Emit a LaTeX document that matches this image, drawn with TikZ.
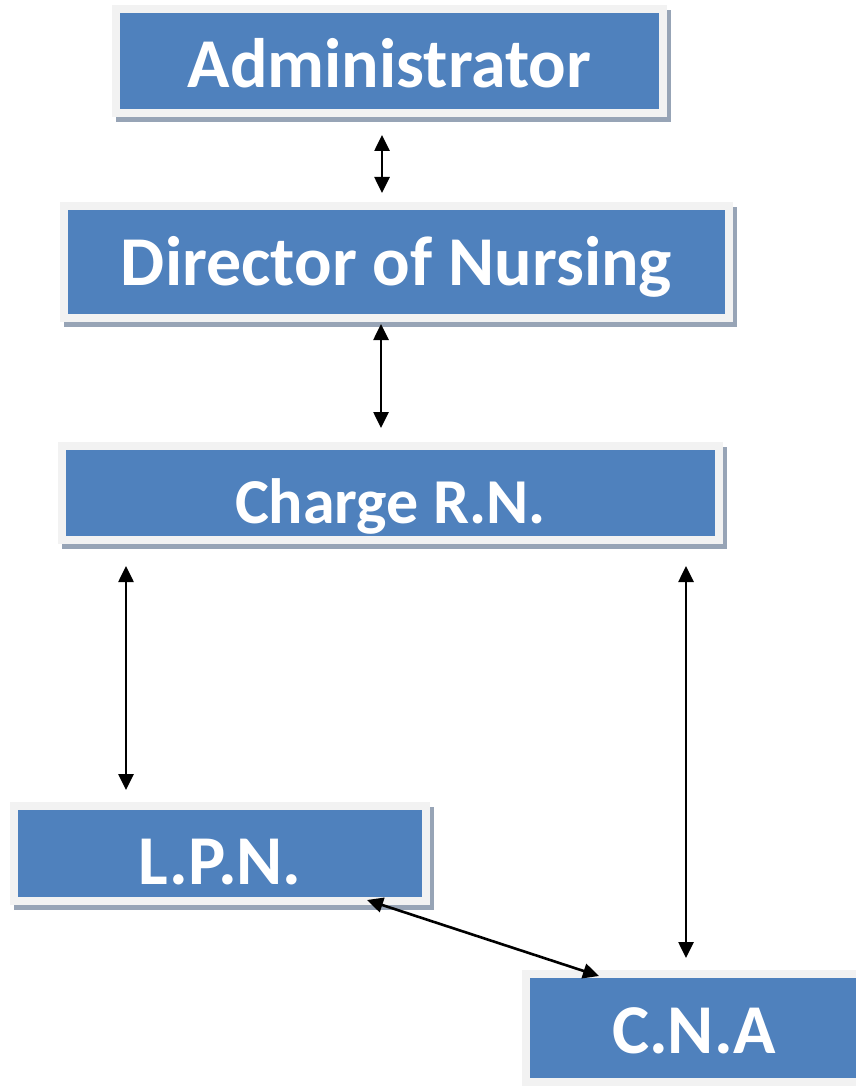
\documentclass[tikz,border=0pt]{standalone}
\usepackage{fontspec}
\setmainfont{Carlito}
\usepackage{xcolor}
\usetikzlibrary{arrows.meta, shadows}

\definecolor{boxblue}{HTML}{4F81BD}
\definecolor{boxrim}{HTML}{F2F2F2}
\definecolor{boxshade}{HTML}{97A4B6}

\tikzset{
  box/.style={rectangle, fill=boxblue, draw=boxrim, line width=8pt,
    text=white, font=\fontsize{70}{80}\selectfont\bfseries,
    text height=54pt, text depth=0pt, inner sep=0pt, outer sep=0pt,
    drop shadow={shadow xshift=4pt, shadow yshift=-5pt, opacity=1,
      fill=boxshade, draw=boxshade, line width=8pt}},
  link/.style={line width=2.6pt, {Triangle[length=16pt,width=15pt]}-{Triangle[length=16pt,width=15pt]}}
}

\begin{document}
\begin{tikzpicture}[x=1pt, y=-1pt]
    \useasboundingbox (0,0) rectangle (855,1086);

    % Draw boxes
    \node[box, minimum width=547pt, minimum height=104pt] (admin) at (389.5,61) {Administrator};
    \node[box, minimum width=665pt, minimum height=112pt, text height=46pt] (dir) at (396.5,262) {Director of Nursing};
    \node[box, minimum width=657pt, minimum height=94pt, text height=60pt,
      font=\fontsize{64}{76}\selectfont\bfseries] (charge) at (390.5,493) {Charge R.N.};
    \node[box, minimum width=412pt, minimum height=95pt, text height=61pt] (lpn) at (220,853.5) {L.P.N.};
    \node[box, minimum width=336pt, minimum height=108pt, text height=50pt] (cna) at (694,1028) {C.N.A};

    % Draw links
    \draw[link] ([xshift=-7.5pt, yshift=-22pt]admin.south) -- ([xshift=-14.5pt, yshift=13pt]dir.north);
    \draw[link] ([xshift=-15.5pt, yshift=-6pt]dir.south) -- ([xshift=-9.5pt, yshift=18pt]charge.north);
    \draw[link] ([xshift=64pt, yshift=-26pt]charge.south west) -- ([xshift=112pt, yshift=16pt]lpn.north west);
    \draw[link] ([xshift=-33pt, yshift=-26pt]charge.south east) -- ([xshift=-8pt, yshift=16pt]cna.north);
    \draw[link] ([xshift=-59pt, yshift=1pt]lpn.south east) -- ([xshift=73pt, yshift=-2pt]cna.north west);
\end{tikzpicture}
\end{document}
